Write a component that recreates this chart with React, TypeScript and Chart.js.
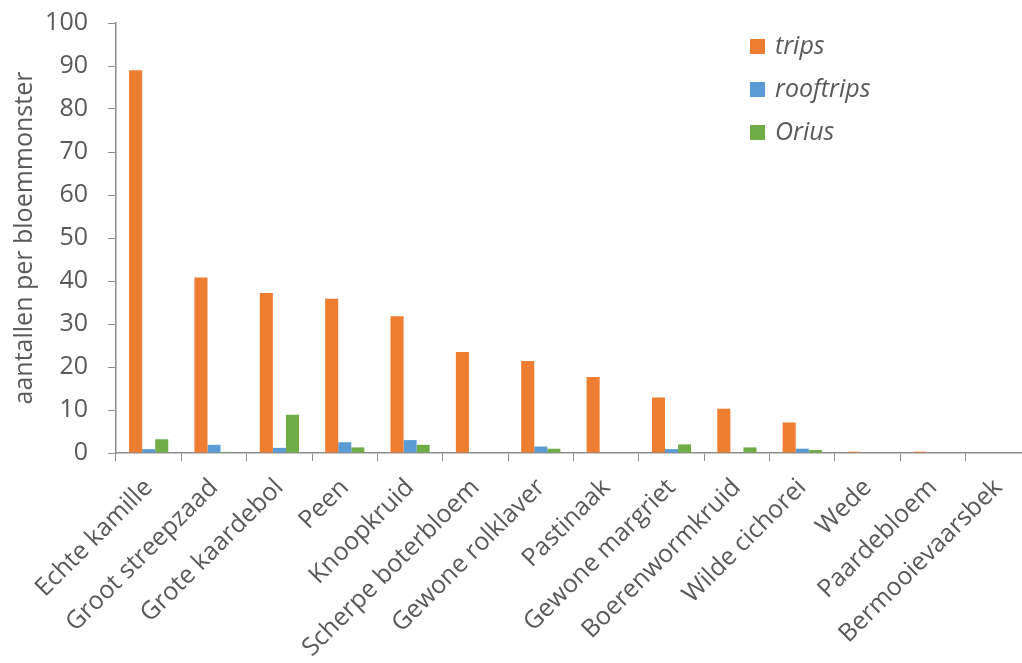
import React, { useEffect, useRef } from "react";
import { Chart, registerables } from "chart.js";

Chart.register(...registerables);

const categories = [
  "Echte kamille",
  "Groot streepzaad",
  "Grote kaardebol",
  "Peen",
  "Knoopkruid",
  "Scherpe boterbloem",
  "Gewone rolklaver",
  "Pastinaak",
  "Gewone margriet",
  "Boerenwormkruid",
  "Wilde cichorei",
  "Wede",
  "Paardebloem",
  "Bermooievaarsbek",
];
const trips = [89, 40.8, 37.2, 35.9, 31.8, 23.5, 21.4, 17.7, 12.9, 10.3, 7.1, 0.3, 0.3, 0];
const rooftrips = [0.9, 1.9, 1.2, 2.5, 3.0, 0, 1.5, 0, 0.9, 0, 1.0, 0, 0, 0];
const orius = [3.2, 0.2, 8.9, 1.3, 1.9, 0, 1.0, 0, 2.0, 1.3, 0.7, 0, 0, 0];
const seriesNames = ["trips", "rooftrips", "Orius"];
const seriesColors = ["#ED7D31", "#5B9BD5", "#70AD47"];
const yTitle = "aantallen per bloemmonster";

const FONT = "'Open Sans', sans-serif";
const TEXT = "#595959";
const AXIS = "#8c8c8c";
const SHIFT = 12;

const legendPlugin = {
  id: "customLegend",
  afterDraw(chart: any) {
    const ctx = chart.ctx;
    ctx.save();
    chart.data.datasets.forEach((ds: any, i: number) => {
      const y = SHIFT + 47 + i * 43;
      ctx.fillStyle = ds.backgroundColor;
      ctx.fillRect(750, y - 8, 15, 15);
      ctx.fillStyle = TEXT;
      ctx.font = `italic 25px ${FONT}`;
      ctx.textBaseline = "middle";
      ctx.textAlign = "left";
      ctx.fillText(ds.label, 775, y);
    });
    ctx.restore();
  },
};

export default function App() {
  const ref = useRef<HTMLCanvasElement | null>(null);

  useEffect(() => {
    document.body.style.margin = "0";
    document.body.style.overflow = "hidden";
    const datasets = [trips, rooftrips, orius].map((d, i) => ({
      label: seriesNames[i],
      data: d,
      backgroundColor: seriesColors[i],
      borderWidth: 0,
      categoryPercentage: 0.6,
      barPercentage: 1,
    }));
    const chart = new Chart(ref.current as HTMLCanvasElement, {
      type: "bar",
      data: { labels: categories, datasets },
      options: {
        animation: false,
        responsive: false,
        layout: { padding: { left: 0, top: 9, right: 9, bottom: 0 } },
        plugins: { legend: { display: false }, tooltip: { enabled: false } },
        scales: {
          x: {
            afterFit: (s: any) => {
              s.height = 210;
            },
            grid: {
              display: true,
              drawOnChartArea: false,
              color: AXIS,
              tickLength: 8,
              offset: true,
            },
            border: { color: AXIS, width: 1.5 },
            ticks: {
              color: TEXT,
              font: { family: FONT, size: 25 },
              minRotation: 45,
              maxRotation: 45,
              autoSkip: false,
              padding: 12,
            },
          },
          y: {
            min: 0,
            max: 100,
            afterFit: (s: any) => {
              s.width = 116;
            },
            grid: {
              display: true,
              drawOnChartArea: false,
              color: AXIS,
              tickLength: 8,
            },
            border: { color: AXIS, width: 1.5 },
            ticks: {
              stepSize: 10,
              color: TEXT,
              font: { family: FONT, size: 25 },
              padding: 20,
            },
            title: {
              display: true,
              text: yTitle,
              color: TEXT,
              font: { family: FONT, size: 25 },
              padding: { top: 10, bottom: 0 },
            },
          },
        },
      },
      plugins: [legendPlugin],
    });
    return () => chart.destroy();
  }, []);

  return (
    <div style={{ width: 1040, height: 663, background: "#fff", overflow: "hidden" }}>
      <canvas
        ref={ref}
        width={1040}
        height={663 + SHIFT}
        style={{ display: "block", marginTop: -SHIFT }}
      />
    </div>
  );
}
